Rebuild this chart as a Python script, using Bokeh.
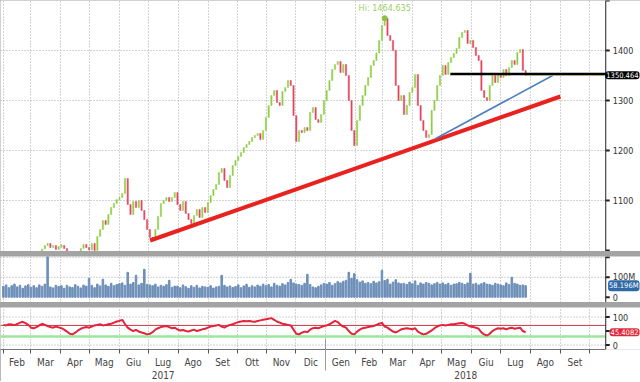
import numpy as np
import pandas as pd
from bokeh.plotting import figure
from bokeh.layouts import column
from bokeh.models import FixedTicker, Range1d, Label, Span, LinearAxis, ColumnDataSource
from bokeh.core.properties import value
from bokeh.embed import file_html
from bokeh.resources import INLINE

# ---------------- data ----------------
month_names = ["Gen", "Feb", "Mar", "Apr", "Mag", "Giu", "Lug", "Ago", "Set", "Ott", "Nov", "Dic"]
year_labels = ["2017", "2018"]

series_start = "2017-02-01"
series_end = "2018-07-27"
view_start = "2017-01-29"
axis_date = "2018-10-18"      # where the value axis sits
view_end = "2018-11-23"
label_months_start = "2017-02-01"
label_months_end = "2018-10-01"
year_break = "2018-01-01"

close = [
    978, 982, 980, 986, 990, 988, 993, 996, 991, 994,
    992, 995, 990, 997, 1003, 1010, 1014, 1006, 1010, 1002, 1008,
    1010, 1004, 998, 992, 988, 990, 996, 1004, 1012, 1006,
    1001, 1014, 1000, 1028, 1042, 1060, 1052, 1072, 1086, 1094, 1102,
    1106, 1114, 1144, 1092, 1072, 1098, 1086, 1100, 1080, 1062, 1042,
    1026, 1021, 1042, 1068, 1094, 1100, 1106, 1098, 1106, 1116,
    1092, 1080, 1098, 1074, 1062, 1054, 1070, 1082, 1066, 1086, 1076,
    1096, 1110, 1122, 1132, 1156, 1164, 1140, 1126, 1150, 1170,
    1180, 1188, 1196, 1206, 1212, 1218, 1226, 1230, 1234, 1222, 1240,
    1266, 1290, 1310, 1320, 1296, 1290, 1318, 1326, 1340, 1330,
    1270, 1218, 1240, 1236, 1246, 1240, 1276, 1286, 1262, 1256,
    1272, 1300, 1320, 1340, 1362, 1372, 1378, 1356, 1372, 1350,
    1300, 1240, 1210, 1260, 1290, 1310, 1330, 1346, 1370, 1380,
    1395, 1420, 1450, 1464.635, 1430, 1420, 1400, 1330, 1300, 1310,
    1272, 1290, 1316, 1326, 1352, 1290, 1260, 1240, 1226, 1232,
    1280, 1300, 1330, 1350, 1370, 1352, 1376, 1386, 1394, 1404, 1426,
    1436, 1440, 1414, 1420, 1406, 1390, 1380, 1320, 1306, 1300,
    1330, 1350, 1336, 1354, 1346, 1362, 1350, 1366, 1380, 1372, 1396, 1402, 1360, 1350.464,
]

volume_m = [
    55, 62, 48, 58, 66, 52, 60, 45, 57, 63,
    50, 58, 48, 62, 55, 66, 210, 52, 47, 60, 54,
    58, 45, 60, 52, 49, 63, 55, 47, 61, 56,
    95, 60, 48, 66, 57, 90, 62, 55, 70, 58, 64,
    68, 72, 60, 125, 66, 74, 110, 62, 70, 140, 64,
    62, 58, 66, 52, 60, 55, 63, 85, 50, 56,
    56, 48, 62, 53, 45, 58, 50, 60, 47, 55, 52,
    50, 58, 46, 52, 55, 110, 60, 52, 57, 49,
    54, 62, 48, 57, 65, 50, 58, 52, 61, 55, 66,
    58, 64, 52, 70, 60, 56, 68, 62, 74, 90,
    72, 66, 64, 60, 70, 115, 64, 52, 48, 55,
    62, 70, 66, 74, 60, 68, 78, 72, 80, 85,
    125, 95, 118, 88, 76, 82, 70, 74, 68, 80,
    72, 78, 135, 84, 90, 66, 76, 88, 72, 68,
    70, 64, 76, 68, 82, 60, 72, 66, 74, 70,
    62, 68, 74, 66, 72, 64, 70, 60, 66, 68, 75,
    70, 64, 72, 120, 66, 70, 62, 68, 74, 66,
    64, 60, 70, 66, 62, 58, 72, 64, 100, 70, 66, 60, 62, 58.196,
]

rsi = [
    72, 70, 74, 73, 71, 75, 80, 83, 78, 72,
    62, 60, 64, 70, 76, 72, 68, 64, 62, 66, 63,
    60, 55, 48, 40, 38, 44, 52, 58, 62, 64,
    62, 66, 70, 72, 74, 70, 72, 74, 76, 80, 84,
    86, 90, 75, 62, 55, 50, 54, 48, 45, 42, 38,
    40, 46, 55, 60, 64, 66, 68, 64, 60, 62,
    56, 52, 54, 50, 48, 52, 55, 50, 53, 56, 58,
    62, 66, 68, 70, 72, 66, 62, 68, 72, 74,
    78, 82, 84, 86, 85, 86, 84, 83, 86, 88, 90,
    92, 94, 96, 90, 84, 80, 76, 74, 72, 70,
    55, 40, 38, 44, 48, 46, 55, 60, 62, 60,
    64, 68, 70, 74, 80, 86, 82, 72, 66, 62,
    50, 40, 38, 48, 55, 60, 62, 64, 66, 68,
    72, 76, 79, 66, 62, 55, 48, 45, 50, 56,
    58, 60, 58, 56, 60, 48, 42, 38, 40, 46,
    52, 60, 66, 70, 72, 70, 72, 74, 74, 76, 78,
    79, 76, 70, 66, 64, 62, 58, 45, 38, 34,
    40, 50, 56, 60, 58, 60, 56, 60, 62, 58, 60, 62, 50, 45.4082,
]

red_trend_dates = ["2017-07-03", "2018-09-01"]
red_trend_prices = [1020, 1308]
blue_trend_dates = ["2018-04-25", "2018-08-24"]
blue_trend_prices = [1224, 1350]
level_start = "2018-05-10"
level_price = 1353
rsi_upper, rsi_lower = 70, 30
price_ticks = [1000, 1100, 1200, 1300, 1400, 1500]
price_tick_labels = ["", "1100", "1200", "1300", "1400", ""]
vol_ticks = [0, 100, 200]
vol_tick_labels = ["0", "100M", ""]
rsi_ticks = [0, 50, 100]
rsi_tick_labels = ["0", "", "100"]

# ---------------- helpers ----------------
def ms(d):
    return int(pd.Timestamp(d).value // 10**6)

FONT = "DejaVu Sans Condensed"
UP, DOWN = "#8fcf45", "#e6435f"
GRID = "#a8a8a8"
AXIS = "#222222"

dates = pd.date_range(series_start, series_end, periods=len(close))
xs = (dates.asi8 // 10**6).astype(float)
day = 86400000.0

opens = [close[0]] + close[:-1]
top = [max(o, c) for o, c in zip(opens, close)]
bot = [min(o, c) for o, c in zip(opens, close)]
cols = [UP if c >= o else DOWN for o, c in zip(opens, close)]
flat = [t - b < 3 for t, b in zip(top, bot)]
bot = [b - 1.5 if f else b for b, f in zip(bot, flat)]
top = [t + 1.5 if f else t for t, f in zip(top, flat)]

x0, xa_ms, x1 = ms(view_start), ms(axis_date), ms(view_end)
xr = Range1d(x0, x1)

mstarts = pd.date_range(label_months_start, label_months_end, freq="MS")
start_ms = [ms(d) for d in mstarts]
mid_ms = [(a + b) // 2 for a, b in zip(start_ms[:-1], start_ms[1:])]
mid_labels = {m: month_names[d.month - 1] for m, d in zip(mid_ms, mstarts[:-1])}


def make(h, yr, ticks, labels, grid_ticks):
    p = figure(frame_width=640, frame_height=h, x_range=xr, y_range=yr,
               output_backend="svg", toolbar_location=None, y_axis_location=None,
               min_border_left=0, min_border_right=0, min_border_top=0, min_border_bottom=0,
               background_fill_color="white", border_fill_color="white", outline_line_color=None)
    p.xgrid.ticker = FixedTicker(ticks=start_ms)
    p.xgrid.grid_line_color = GRID
    p.xgrid.grid_line_dash = "1 2"
    p.ygrid.visible = False
    # horizontal dotted grid, stopping at the value axis
    p.segment(x0=[x0] * len(grid_ticks), x1=[xa_ms] * len(grid_ticks), y0=grid_ticks, y1=grid_ticks,
              line_color=GRID, line_dash="1 2", line_width=1)
    # value axis on the right
    p.add_layout(Span(location=xa_ms, dimension="height", line_color=AXIS, line_width=1))
    p.ray(x=[xa_ms] * len(ticks), y=ticks, length=4, length_units="screen", angle=0,
          line_color=AXIS, line_width=2)
    shown = [(t, l) for t, l in zip(ticks, labels) if l]
    p.text(x=[xa_ms] * len(shown), y=[t for t, _ in shown], text=[l for _, l in shown],
           x_offset=7, text_baseline="middle", text_align="left", text_font=value(FONT),
           text_font_size="9px", text_color="#333333")
    return p


def value_box(p, y, text, color):
    p.add_layout(Label(x=x1, y=y, x_offset=-1, text=text, text_align="right",
                       text_baseline="middle", text_color="white", text_font=FONT,
                       text_font_size="7.5px", background_fill_color=color,
                       border_radius=3, padding=1))


# ---------------- price panel ----------------
p1 = make(251, Range1d(998, 1500), price_ticks, price_tick_labels, [1100, 1200, 1300, 1400])
p1.xaxis.visible = False
src = ColumnDataSource(dict(x=xs, top=top, bottom=bot, color=cols))
p1.vbar(x="x", width=1.3 * day, top="top", bottom="bottom", fill_color="color",
        line_color="color", line_width=0.5, source=src)

p1.line([ms(d) for d in red_trend_dates], red_trend_prices, line_color="#e8231f", line_width=4)
p1.line([ms(d) for d in blue_trend_dates], blue_trend_prices, line_color="#4d7fbf", line_width=1.6)
p1.segment(x0=[xs[-1]], y0=[close[-1]], x1=[xa_ms], y1=[close[-1]], line_color="#e6d58c", line_width=1)
p1.segment(x0=[ms(level_start)], y0=[level_price], x1=[xa_ms], y1=[level_price], line_color="black", line_width=2.5)

hi_i = int(np.argmax(close))
p1.scatter([xs[hi_i]], [close[hi_i]], size=5, color="#86c440")
p1.add_layout(Label(x=xs[hi_i], y=close[hi_i], y_offset=5, text=f"Hi: {close[hi_i]:.3f}",
                    text_align="center", text_baseline="bottom", text_color="#9ccf62",
                    text_font=FONT, text_font_size="9px"))
value_box(p1, close[-1], f"{close[-1]:.3f}", "black")

# ---------------- volume panel ----------------
p2 = make(46, Range1d(-26, 204), vol_ticks, vol_tick_labels, [100, 200])
p2.xaxis.visible = False
p2.vbar(x=xs, width=1.6 * day, top=volume_m, bottom=0, fill_color="#6d8fb8", line_color="#6d8fb8")
value_box(p2, volume_m[-1], f"{volume_m[-1]:.3f}M", "#2f6aa6")

# ---------------- RSI panel ----------------
p3 = make(42, Range1d(-16, 134), rsi_ticks, rsi_tick_labels, [0, 100])
p3.segment(x0=[x0, x0], x1=[xa_ms, xa_ms], y0=[rsi_upper, rsi_lower], y1=[rsi_upper, rsi_lower],
           line_color=["#c83a44", "#9be69b"], line_width=[1, 2.5])
p3.line(xs, rsi, line_color="#e2243c", line_width=2)
value_box(p3, rsi[-1], f"{rsi[-1]:.4f}", "#e0283c")

xa = p3.xaxis[0]
xa.bounds = (x0, xa_ms)
xa.ticker = FixedTicker(ticks=mid_ms, minor_ticks=start_ms)
xa.major_label_overrides = mid_labels
xa.major_tick_line_color = None
xa.major_tick_out = 0
xa.major_tick_in = 0
xa.minor_tick_line_color = "#555555"
xa.minor_tick_in = 0
xa.minor_tick_out = 4
xa.axis_line_color = "#777777"
xa.major_label_standoff = 3
xa.major_label_text_font = FONT
xa.major_label_text_font_size = "10px"
xa.major_label_text_color = "#444444"

yb = ms(year_break)
year_ax = LinearAxis(ticker=FixedTicker(ticks=[(x0 + yb) // 2, (yb + xa_ms) // 2], minor_ticks=[yb]),
                     major_label_overrides={(x0 + yb) // 2: year_labels[0], (yb + xa_ms) // 2: year_labels[1]},
                     axis_line_color=None, major_tick_line_color=None, major_tick_out=0, major_tick_in=0,
                     minor_tick_line_color="#999999", minor_tick_in=32, minor_tick_out=0,
                     major_label_standoff=0, major_label_text_font=FONT,
                     major_label_text_font_size="10px", major_label_text_color="#444444")
p3.add_layout(year_ax, "below")

layout = column(p1, p2, p3, spacing=5, styles={"background-color": "#a3a3a3"})
open("out.html", "w").write(file_html(layout, INLINE))
